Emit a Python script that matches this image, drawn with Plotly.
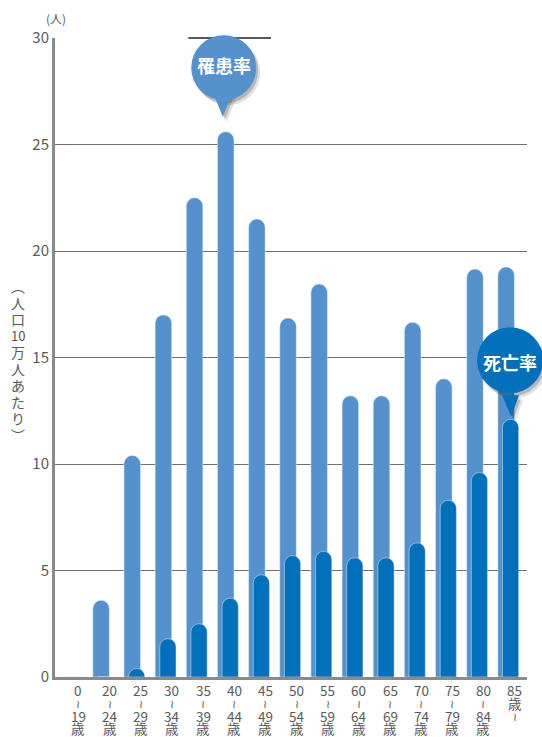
import plotly.graph_objects as go

# ---- data ----
categories = ["0～19歳", "20～24歳", "25～29歳", "30～34歳", "35～39歳", "40～44歳",
              "45～49歳", "50～54歳", "55～59歳", "60～64歳", "65～69歳", "70～74歳",
              "75～79歳", "80～84歳", "85歳～"]
age_from = ["0", "20", "25", "30", "35", "40", "45", "50", "55", "60", "65", "70", "75", "80", "85"]
age_to = ["19", "24", "29", "34", "39", "44", "49", "54", "59", "64", "69", "74", "79", "84", ""]
incidence = [0, 3.6, 10.4, 17.0, 22.5, 25.6, 21.5, 16.85, 18.45, 13.2, 13.2, 16.65, 14.0, 19.15, 19.25]
mortality = [0, 0, 0.4, 1.8, 2.5, 3.7, 4.8, 5.7, 5.9, 5.6, 5.6, 6.3, 8.3, 9.6, 12.1]
y_ticks = [0, 5, 10, 15, 20, 25, 30]
y_title = ["︵", "人", "口", "10", "万", "人", "あ", "た", "り", "︶"]

LIGHT = "#5591cd"
DARK = "#0070bb"
GRAY = "#5a5a5a"
FONT = "Noto Sans CJK JP, DejaVu Sans, sans-serif"
X_RANGE = [-0.48, 14.67]
Y_RANGE = [0, 30]

fig = go.Figure()
fig.add_trace(go.Bar(x=categories, y=incidence, name="罹患率", marker=dict(color=LIGHT, cornerradius="50%"),
                     width=0.53, offset=-0.265))
fig.add_trace(go.Bar(x=categories, y=mortality, name="死亡率", marker=dict(color=DARK, cornerradius="50%"),
                     width=0.52, offset=-0.116))

annotations = []
# x labels (vertical style)
for i, cat in enumerate(categories):
    rows = [age_from[i],
            "≀" if age_to[i] else "歳",
            age_to[i] if age_to[i] else "≀",
            "歳" if age_to[i] else ""]
    shifts = [-13, -26, -39, -51]
    for txt, sh in zip(rows, shifts):
        if not txt:
            continue
        annotations.append(dict(x=cat, xref="x", y=0, yref="paper", text=txt, showarrow=False,
                                xshift=8.5, yshift=sh, xanchor="center", yanchor="middle",
                                font=dict(family=FONT, size=13.5 if txt != "≀" else 11, color=GRAY)))

# units
annotations.append(dict(x=0, xref="paper", y=1, yref="paper", text="(人)", showarrow=False,
                        xanchor="center", yanchor="middle",
                        xshift=1, yshift=20, font=dict(family=FONT, size=12, color=GRAY)))
# vertical y title, one character per line
pitch = 16.5
n = len(y_title)
for k, ch in enumerate(y_title):
    annotations.append(dict(x=0, xref="paper", y=0.495, yref="paper", text=ch,
                            showarrow=False, xanchor="center", yanchor="middle",
                            xshift=-37, yshift=((n - 1) / 2 - k) * pitch,
                            font=dict(family=FONT, size=14 if ch != "10" else 13, color=GRAY)))

def px(cat_idx):
    return (cat_idx - X_RANGE[0]) / (X_RANGE[1] - X_RANGE[0])

def py(val):
    return (val - Y_RANGE[0]) / (Y_RANGE[1] - Y_RANGE[0])

shapes = []
# darker segment of top grid line near the balloon
shapes.append(dict(type="line", xref="paper", yref="paper", x0=px(3.8), x1=px(6.45), y0=1, y1=1,
                   line=dict(color="#5a5a5a", width=2), layer="above"))

def balloon(idx, val, color, cdx, cdy, r, tri, text, tdx, tdy):
    xa, ya = px(idx), py(val)
    common = dict(xref="paper", yref="paper", xsizemode="pixel", ysizemode="pixel",
                  xanchor=xa, yanchor=ya, layer="above")
    # shadow
    for off, op in [((4, -5), 0.12), ((2, -3), 0.18)]:
        shapes.append(dict(type="circle", x0=cdx - r + off[0], x1=cdx + r + off[0],
                           y0=cdy - r + off[1], y1=cdy + r + off[1],
                           fillcolor="#000000", opacity=op, line=dict(width=0), **common))
        (a, b, c) = tri
        path = "M {},{} L {},{} L {},{} Z".format(a[0] + off[0], a[1] + off[1], b[0] + off[0], b[1] + off[1],
                                                 c[0] + off[0], c[1] + off[1])
        shapes.append(dict(type="path", path=path, fillcolor="#000000", opacity=op, line=dict(width=0), **common))
    shapes.append(dict(type="circle", x0=cdx - r, x1=cdx + r, y0=cdy - r, y1=cdy + r,
                       fillcolor=color, line=dict(width=0), **common))
    (a, b, c) = tri
    path = "M {},{} L {},{} L {},{} Z".format(a[0], a[1], b[0], b[1], c[0], c[1])
    shapes.append(dict(type="path", path=path, fillcolor=color, line=dict(width=0), **common))
    annotations.append(dict(x=xa, y=ya, xref="paper", yref="paper", text="<b>" + text + "</b>",
                            showarrow=False, xshift=tdx, yshift=tdy, xanchor="center", yanchor="middle",
                            font=dict(family=FONT, size=18, color="white")))

balloon(5, incidence[5], LIGHT, -2, 64, 32.5, ((-13, 40), (7, 40), (-3, 15)), "罹患率", -2, 67)
balloon(14, mortality[14], DARK, 4, 59, 33, ((-4, 24), (13, 24), (5, 3)), "死亡率", 4, 57)

fig.update_layout(
    width=542, height=737,
    margin=dict(l=55, r=15, t=38, b=60),
    paper_bgcolor="white", plot_bgcolor="white",
    barmode="overlay", showlegend=False,
    xaxis=dict(range=X_RANGE, showgrid=False, showticklabels=False, ticks="",
               showline=True, linecolor="#8a8a8a", linewidth=3, zeroline=False, fixedrange=True),
    yaxis=dict(range=Y_RANGE, tickvals=y_ticks, showgrid=True, gridcolor="#707070", gridwidth=1,
               showline=True, linecolor="#8a8a8a", linewidth=3, zeroline=False, ticks="",
               tickfont=dict(family=FONT, size=15, color=GRAY), ticklabelstandoff=0),
    annotations=annotations, shapes=shapes,
)

fig.write_html("out.html")
